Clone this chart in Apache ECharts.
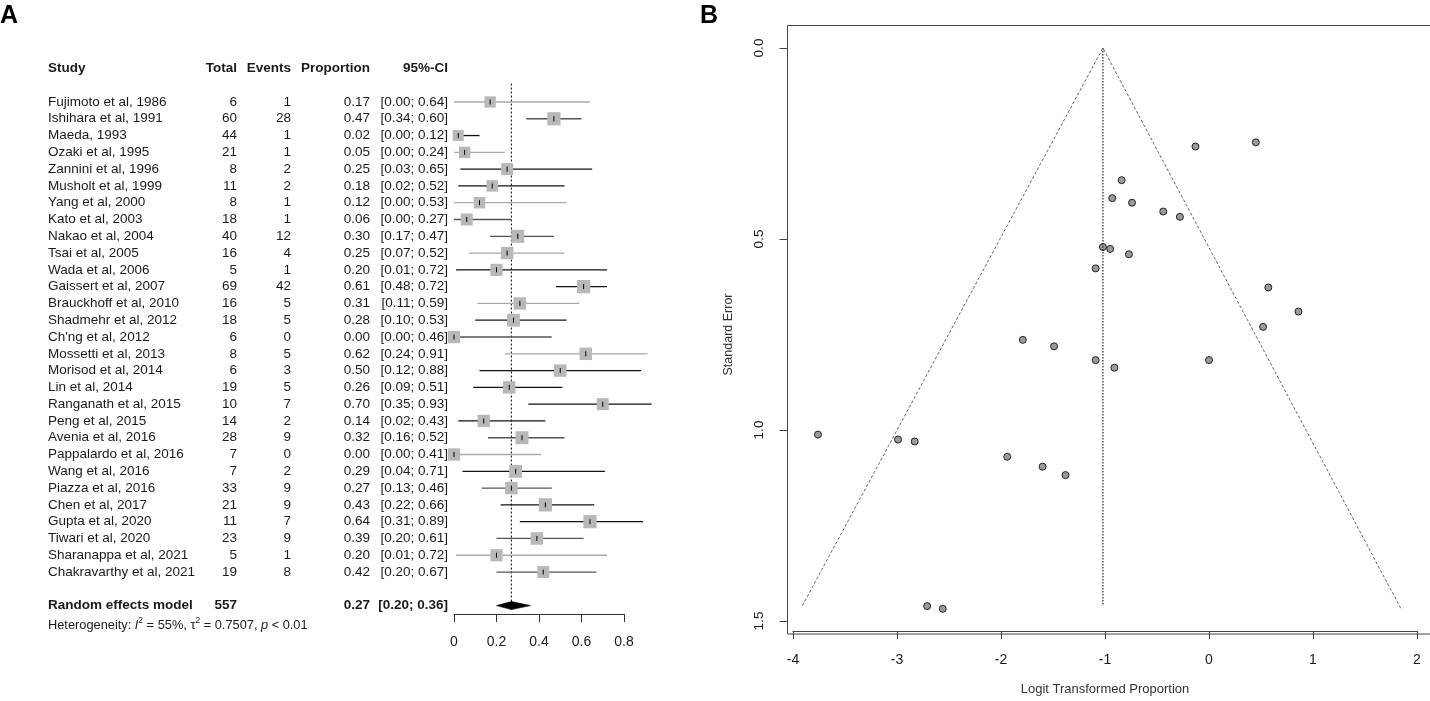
<!DOCTYPE html>
<html>
<head>
<meta charset="utf-8">
<title>Forest and funnel plot</title>
<script src="https://cdn.jsdelivr.net/npm/echarts@6/dist/echarts.min.js"></script>
<style>
  html, body { margin: 0; padding: 0; background: #fff; }
  #main { width: 1430px; height: 701px; }
</style>
</head>
<body>
<div id="main"></div>
<script>
// ---- panel A: forest plot ----
var studies = ['Fujimoto et al, 1986', 'Ishihara et al, 1991', 'Maeda, 1993', 'Ozaki et al, 1995',
  'Zannini et al, 1996', 'Musholt et al, 1999', 'Yang et al, 2000', 'Kato et al, 2003',
  'Nakao et al, 2004', 'Tsai et al, 2005', 'Wada et al, 2006', 'Gaissert et al, 2007',
  'Brauckhoff et al, 2010', 'Shadmehr et al, 2012', "Ch'ng et al, 2012", 'Mossetti et al, 2013',
  'Morisod et al, 2014', 'Lin et al, 2014', 'Ranganath et al, 2015', 'Peng et al, 2015',
  'Avenia et al, 2016', 'Pappalardo et al, 2016', 'Wang et al, 2016', 'Piazza et al, 2016',
  'Chen et al, 2017', 'Gupta et al, 2020', 'Tiwari et al, 2020', 'Sharanappa et al, 2021',
  'Chakravarthy et al, 2021'];
var totals = [6, 60, 44, 21, 8, 11, 8, 18, 40, 16, 5, 69, 16, 18, 6, 8, 6, 19, 10, 14, 28, 7, 7, 33, 21, 11, 23, 5, 19];
var events = [1, 28, 1, 1, 2, 2, 1, 1, 12, 4, 1, 42, 5, 5, 0, 5, 3, 5, 7, 2, 9, 0, 2, 9, 9, 7, 9, 1, 8];
var proportions = [0.17, 0.47, 0.02, 0.05, 0.25, 0.18, 0.12, 0.06, 0.30, 0.25, 0.20, 0.61, 0.31, 0.28, 0.00,
  0.62, 0.50, 0.26, 0.70, 0.14, 0.32, 0.00, 0.29, 0.27, 0.43, 0.64, 0.39, 0.20, 0.42];
var ciLower = [0.00, 0.34, 0.00, 0.00, 0.03, 0.02, 0.00, 0.00, 0.17, 0.07, 0.01, 0.48, 0.11, 0.10, 0.00,
  0.24, 0.12, 0.09, 0.35, 0.02, 0.16, 0.00, 0.04, 0.13, 0.22, 0.31, 0.20, 0.01, 0.20];
var ciUpper = [0.64, 0.60, 0.12, 0.24, 0.65, 0.52, 0.53, 0.27, 0.47, 0.52, 0.72, 0.72, 0.59, 0.53, 0.46,
  0.91, 0.88, 0.51, 0.93, 0.43, 0.52, 0.41, 0.71, 0.46, 0.66, 0.89, 0.61, 0.72, 0.67];
// study weights (%)
var weights = [3.1, 4.25, 2.95, 3.2, 3.5, 3.2, 3.2, 3.5, 4.1, 3.8, 3.6, 4.3, 3.8, 4.0, 3.7,
  3.8, 3.8, 3.8, 3.5, 3.7, 4.1, 3.7, 4.0, 3.8, 4.25, 4.25, 3.8, 3.6, 3.5];
var reTotal = 557, reProp = 0.27, reLower = 0.20, reUpper = 0.36;

// ---- panel B: funnel plot ----
var funnelLogit = [-0.13, 0.45, -0.84, -0.93, -0.74, -0.44, -0.28, -1.02, -0.95, -0.77, -1.09, 0.57,
  0.86, 0.52, -1.79, -1.49, -1.09, -0.91, 0.00, -3.76, -2.99, -2.83, -1.94, -1.60, -1.38, -2.71, -2.56];
var funnelSE = [0.258, 0.247, 0.346, 0.393, 0.405, 0.428, 0.442, 0.521, 0.526, 0.540, 0.577, 0.627,
  0.690, 0.730, 0.764, 0.781, 0.817, 0.837, 0.817, 1.012, 1.025, 1.030, 1.070, 1.096, 1.118, 1.461, 1.468];
var pooledLogit = -1.02;
var funnelApex = [-1.02, 0];
var funnelLeft = [-3.91, 1.46];
var funnelRight = [1.85, 1.47];
var funnelBottomSE = 1.46;

// CI line shade per row as it appears in the picture
var ciTone = 'gmkgkkgmmgkkgkmgkkkkmgkmkkmgm';
var toneColors = { k: '#111', m: '#555', g: '#aaa' };

var FONT = '"Liberation Sans", Arial, sans-serif';
var TXT = '#1a1a1a';

function f2(v) { return v.toFixed(2); }

// table rows: header, studies, pooled estimate
var tableRows = [{ row: -2, bold: true, cells: ['Study', 'Total', 'Events', 'Proportion', '95%-CI'] }];
studies.forEach(function (s, i) {
  tableRows.push({ row: i, bold: false,
    cells: [s, String(totals[i]), String(events[i]), f2(proportions[i]), '[' + f2(ciLower[i]) + '; ' + f2(ciUpper[i]) + ']'] });
});
tableRows.push({ row: 30, bold: true,
  cells: ['Random effects model', String(reTotal), '', f2(reProp), '[' + f2(reLower) + '; ' + f2(reUpper) + ']'] });

var colX = [48, 237, 291, 370, 448];
var colAlign = ['left', 'right', 'right', 'right', 'right'];

function renderTableRow(params, api) {
  var r = tableRows[params.dataIndex];
  var y = api.coord([0, api.value(1)])[1];
  var children = r.cells.map(function (t, c) {
    return {
      type: 'text', x: colX[c], y: y,
      style: {
        text: t, fill: TXT, fontSize: 13.5, fontFamily: FONT,
        fontWeight: r.bold ? 'bold' : 'normal',
        textAlign: colAlign[c], align: colAlign[c],
        textVerticalAlign: 'middle', verticalAlign: 'middle'
      }
    };
  });
  return { type: 'group', children: children };
}

function renderStudy(params, api) {
  var row = api.value(1);
  var p = api.coord([api.value(0), row]);
  var lo = api.coord([api.value(2), row]);
  var hi = api.coord([api.value(3), row]);
  var side = 6.4 * Math.sqrt(api.value(4));
  var tone = toneColors[ciTone.charAt(params.dataIndex)];
  return { type: 'group', children: [
    { type: 'line', shape: { x1: lo[0], y1: lo[1], x2: hi[0], y2: hi[1] }, style: { stroke: tone, lineWidth: 1.3 } },
    { type: 'rect', shape: { x: p[0] - side / 2, y: p[1] - side / 2, width: side, height: side }, style: { fill: '#b8b8b8' } },
    { type: 'line', shape: { x1: p[0], y1: p[1] - 2.5, x2: p[0], y2: p[1] + 2.5 }, style: { stroke: '#000', lineWidth: 1 } }
  ] };
}

function renderPooled(params, api) {
  var row = api.value(1);
  var c = api.coord([api.value(0), row]);
  var lo = api.coord([api.value(2), row]);
  var hi = api.coord([api.value(3), row]);
  var top = api.coord([api.value(0), -1.1]);
  var bot = api.coord([api.value(0), 30.35]);
  return { type: 'group', children: [
    { type: 'line', shape: { x1: top[0], y1: top[1], x2: bot[0], y2: bot[1] },
      style: { stroke: '#000', lineWidth: 1, lineDash: [2, 2] } },
    { type: 'polygon', shape: { points: [[lo[0], lo[1]], [c[0], c[1] - 4], [hi[0], hi[1]], [c[0], c[1] + 4]] },
      style: { fill: '#000', stroke: '#000', lineWidth: 0.6 } }
  ] };
}

var chart = echarts.init(document.getElementById('main'), null, { renderer: 'canvas' });

var option = {
  animation: false,
  backgroundColor: '#fff',
  textStyle: { fontFamily: FONT },
  grid: [
    { left: 454, right: 806, top: 85.2, bottom: 87 },
    { left: 793, right: 13, top: 48, bottom: 77 }
  ],
  xAxis: [
    {
      gridIndex: 0, type: 'value', min: 0, max: 0.8, interval: 0.2,
      splitLine: { show: false },
      axisLine: { show: true, onZero: false, lineStyle: { color: '#333', width: 1 } },
      axisTick: { show: true, inside: false, length: 8, lineStyle: { color: '#333' } },
      axisLabel: { color: TXT, fontSize: 14, margin: 21, fontFamily: FONT }
    },
    {
      gridIndex: 1, type: 'value', min: -4, max: 2, interval: 1, offset: 10,
      splitLine: { show: false },
      axisLine: { show: true, onZero: false, lineStyle: { color: '#444', width: 1 } },
      axisTick: { show: true, inside: false, length: 8, lineStyle: { color: '#444' } },
      axisLabel: { color: TXT, fontSize: 14, margin: 22, fontFamily: FONT },
      name: 'Logit Transformed Proportion', nameLocation: 'middle', nameGap: 52,
      nameTextStyle: { color: '#333', fontSize: 13, fontFamily: FONT }
    }
  ],
  yAxis: [
    { gridIndex: 0, type: 'value', min: -1, max: 30.5, inverse: true, show: false },
    {
      gridIndex: 1, type: 'value', min: 0, max: 1.5, interval: 0.5, inverse: true, offset: 5.5,
      splitLine: { show: false },
      axisLine: { show: true, onZero: false, lineStyle: { color: '#444', width: 1 } },
      axisTick: { show: true, inside: false, length: 8, lineStyle: { color: '#444' } },
      axisLabel: { color: TXT, fontSize: 13.5, margin: 21, rotate: 90, fontFamily: FONT,
        formatter: function (v) { return v.toFixed(1); } },
      name: 'Standard Error', nameLocation: 'middle', nameGap: 52, nameRotate: 90,
      nameTextStyle: { color: '#333', fontSize: 12.5, fontFamily: FONT }
    }
  ],
  series: [
    {
      type: 'custom', xAxisIndex: 0, yAxisIndex: 0, clip: false, silent: true,
      renderItem: renderTableRow,
      data: tableRows.map(function (r) { return [0, r.row]; })
    },
    {
      type: 'custom', xAxisIndex: 0, yAxisIndex: 0, clip: false, silent: true,
      renderItem: renderPooled,
      data: [[reProp, 30, reLower, reUpper]]
    },
    {
      type: 'custom', xAxisIndex: 0, yAxisIndex: 0, clip: false, silent: true,
      renderItem: renderStudy,
      data: proportions.map(function (p, i) { return [p, i, ciLower[i], ciUpper[i], weights[i]]; })
    },
    {
      type: 'line', xAxisIndex: 1, yAxisIndex: 1, symbol: 'none', silent: true,
      data: [funnelLeft, funnelApex, funnelRight],
      lineStyle: { color: '#555', width: 0.9, type: [3, 2] }
    },
    {
      type: 'line', xAxisIndex: 1, yAxisIndex: 1, symbol: 'none', silent: true,
      data: [[pooledLogit, 0], [pooledLogit, funnelBottomSE]],
      lineStyle: { color: '#222', width: 1.2, type: [1.5, 1.5] }
    },
    {
      type: 'scatter', xAxisIndex: 1, yAxisIndex: 1, symbol: 'circle', symbolSize: 7, silent: true,
      data: funnelLogit.map(function (x, i) { return [x, funnelSE[i]]; }),
      itemStyle: { color: '#9a9a9a', borderColor: '#222', borderWidth: 1, opacity: 1 }
    }
  ],
  graphic: [
    { type: 'text', left: 0, top: 4, style: { text: 'A', fontSize: 25, fontWeight: 'bold', fontFamily: FONT, fill: '#000' } },
    { type: 'text', left: 700, top: 4, style: { text: 'B', fontSize: 25, fontWeight: 'bold', fontFamily: FONT, fill: '#000' } },
    { type: 'rect', z: -1, shape: { x: 787.5, y: 25.5, width: 700, height: 608.5 },
      style: { fill: 'none', stroke: '#444', lineWidth: 1 } },
    { type: 'text', x: 48, y: 624,
      style: {
        text: '{n|Heterogeneity: }{i|I}{s|2}{n| = 55%, τ}{s|2}{n| = 0.7507, }{i|p}{n| < 0.01}',
        verticalAlign: 'middle', textVerticalAlign: 'middle',
        rich: {
          n: { fontSize: 12.8, fontFamily: FONT, fill: TXT, color: TXT, lineHeight: 16, verticalAlign: 'bottom' },
          i: { fontSize: 12.8, fontFamily: FONT, fill: TXT, color: TXT, fontStyle: 'italic', lineHeight: 16, verticalAlign: 'bottom' },
          s: { fontSize: 8.5, fontFamily: FONT, fill: TXT, color: TXT, lineHeight: 16, verticalAlign: 'top' }
        }
      } }
  ]
};

chart.setOption(option);
</script>
</body>
</html>
